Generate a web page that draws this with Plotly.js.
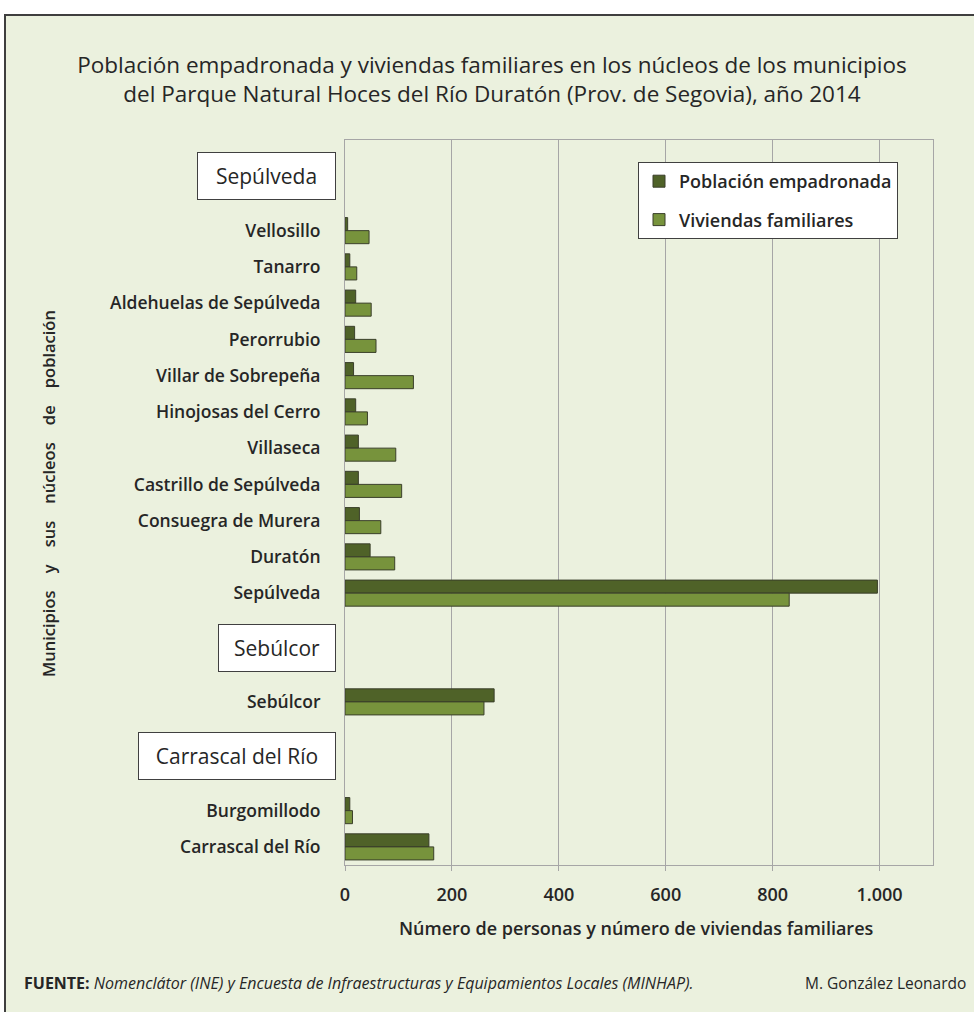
<!DOCTYPE html>
<html>
<head>
<meta charset="utf-8">
<script src="https://cdn.plot.ly/plotly-3.0.1.min.js"></script>
<style>html,body{margin:0;padding:0;background:#ffffff;}#chart{width:974px;height:1012px;}</style>
</head>
<body>
<div id="chart"></div>
<script>
// Municipios (cabeceras de grupo) y sus núcleos, de arriba abajo
const municipios = ['Sepúlveda', 'Sebúlcor', 'Carrascal del Río'];
const nucleosSepulveda = ['Vellosillo', 'Tanarro', 'Aldehuelas de Sepúlveda', 'Perorrubio', 'Villar de Sobrepeña', 'Hinojosas del Cerro', 'Villaseca', 'Castrillo de Sepúlveda', 'Consuegra de Murera', 'Duratón', 'Sepúlveda'];
const nucleosSebulcor = ['Sebúlcor'];
const nucleosCarrascal = ['Burgomillodo', 'Carrascal del Río'];

// Población empadronada (2014)
const poblacionSepulveda = [5, 9, 20, 18, 16, 20, 25, 25, 27, 47, 996];
const poblacionSebulcor = [279];
const poblacionCarrascal = [9, 157];

// Viviendas familiares
const viviendasSepulveda = [45, 22, 49, 58, 128, 42, 95, 106, 67, 93, 831];
const viviendasSebulcor = [260];
const viviendasCarrascal = [14, 166];

const xTickVals = [0, 200, 400, 600, 800, 1000];

const grupos = [
  {mun: municipios[0], nuc: nucleosSepulveda, pob: poblacionSepulveda, viv: viviendasSepulveda},
  {mun: municipios[1], nuc: nucleosSebulcor, pob: poblacionSebulcor, viv: viviendasSebulcor},
  {mun: municipios[2], nuc: nucleosCarrascal, pob: poblacionCarrascal, viv: viviendasCarrascal}
];

// Build category list: two empty slots for each municipality header, then its núcleos
const cats = [], pob = [], viv = [], tickVals = [], headerPos = [];
grupos.forEach(g => {
  const a = g.mun + '\u200b#1', b = g.mun + '\u200b#2';
  headerPos.push({text: g.mun, idx: cats.length + 0.5});
  cats.push(a, b);
  g.nuc.forEach((n, i) => {
    cats.push(n); tickVals.push(n);
    pob.push([n, g.pob[i]]); viv.push([n, g.viv[i]]);
  });
});

const FONT = 'Open Sans, Noto Sans, sans-serif';
const DARK = '#4f6228', LIGHT = '#77933c', OUTLINE = '#3a3f2a', TXT = '#262626';

const traces = [
  {type: 'bar', orientation: 'h', name: 'Población empadronada', legendgroup: 'a',
   y: pob.map(d => d[0]), x: pob.map(d => d[1]),
   marker: {color: DARK, line: {color: OUTLINE, width: 1}}, hoverinfo: 'x+y'},
  {type: 'bar', orientation: 'h', name: 'Viviendas familiares', legendgroup: 'b',
   y: viv.map(d => d[0]), x: viv.map(d => d[1]),
   marker: {color: LIGHT, line: {color: OUTLINE, width: 1}}, hoverinfo: 'x+y'}
];

const L = 345, T = 140, PW = 588, PH = 725;
const px = v => (v - L) / PW;          // pixel -> paper x
const py = v => (T + PH - v) / PH;      // pixel -> paper y

const headerWidths = {'Sepúlveda': 137, 'Sebúlcor': 116, 'Carrascal del Río': 196};

const annotations = headerPos.map(h => ({
  text: h.text, xref: 'paper', yref: 'y', x: px(336), y: h.idx,
  xanchor: 'right', yanchor: 'middle', showarrow: false,
  bgcolor: '#ffffff', bordercolor: '#404040', borderwidth: 1, borderpad: 0,
  width: headerWidths[h.text], height: 46,
  font: {family: FONT, size: 21, color: TXT}
}));

const SP = '&nbsp;&nbsp;&nbsp;&nbsp;';
annotations.push({
  text: ['Municipios', 'y', 'sus', 'núcleos', 'de', 'población'].join(SP), xref: 'paper', yref: 'paper',
  x: px(48), y: py(494), textangle: -90, showarrow: false, xanchor: 'center', yanchor: 'middle',
  font: {family: FONT, size: 16.5, color: TXT, weight: 600}
});
annotations.push({
  text: 'Número de personas y número de viviendas familiares', xref: 'paper', yref: 'paper',
  x: px(636), y: py(928), showarrow: false, xanchor: 'center', yanchor: 'middle',
  font: {family: FONT, size: 18, color: TXT, weight: 600}
});
annotations.push({
  text: '<b>FUENTE:</b> <i>Nomenclátor (INE) y Encuesta de Infraestructuras y Equipamientos Locales (MINHAP).</i>',
  xref: 'paper', yref: 'paper', x: px(22), y: py(983), showarrow: false, xanchor: 'left', yanchor: 'middle',
  font: {family: FONT, size: 16, color: TXT}
});
annotations.push({
  text: 'M. González Leonardo', xref: 'paper', yref: 'paper', x: px(968), y: py(983),
  showarrow: false, xanchor: 'right', yanchor: 'middle',
  font: {family: FONT, size: 15.5, color: TXT}
});

const layout = {
  width: 974, height: 1012,
  margin: {l: L, r: 974 - L - PW, t: T, b: 1012 - T - PH, pad: 0},
  paper_bgcolor: '#ffffff', plot_bgcolor: '#ffffff',
  separators: ',.',
  title: {text: 'Población empadronada y viviendas familiares en los núcleos de los municipios<br>del Parque Natural Hoces del Río Duratón (Prov. de Segovia), año 2014',
          xref: 'container', yref: 'container', x: 492 / 974, y: 1 - 73 / 1012, xanchor: 'center', yanchor: 'middle',
          font: {family: FONT, size: 22.5, color: TXT}},
  barmode: 'group', bargap: 0.28, bargroupgap: 0,
  showlegend: true,
  legend: {x: px(638), y: py(162), xanchor: 'left', yanchor: 'top', bgcolor: '#ffffff',
           bordercolor: '#404040', borderwidth: 1, font: {family: FONT, size: 18, color: TXT, weight: 600},
           tracegroupgap: 12, traceorder: 'grouped', itemwidth: 30},
  xaxis: {range: [0, 1100], tickvals: xTickVals, tickformat: ',d', showgrid: true, gridcolor: '#a6a6a6', gridwidth: 1,
          zeroline: false, showline: true, linecolor: '#a6a6a6', mirror: true, ticks: 'outside', ticklen: 5,
          tickcolor: '#a6a6a6', ticklabelstandoff: 8, automargin: false,
          tickfont: {family: FONT, size: 18, color: TXT, weight: 600}},
  yaxis: {type: 'category', categoryorder: 'array', categoryarray: cats, range: [cats.length - 0.5, -0.5],
          tickmode: 'array', tickvals: tickVals, ticktext: tickVals, showgrid: false, zeroline: false,
          showline: true, linecolor: '#a6a6a6', mirror: true, ticks: '', ticklabelstandoff: 20, automargin: false,
          tickfont: {family: FONT, size: 17.5, color: TXT, weight: 600}},
  shapes: [{type: 'rect', xref: 'paper', yref: 'paper', x0: px(5), x1: px(990), y0: py(1030), y1: py(15),
            fillcolor: '#ebf1de', line: {color: '#3f3f3f', width: 2}, layer: 'below'}],
  annotations: annotations
};

Plotly.newPlot('chart', traces, layout, {displayModeBar: false, staticPlot: true});
</script>
</body>
</html>
